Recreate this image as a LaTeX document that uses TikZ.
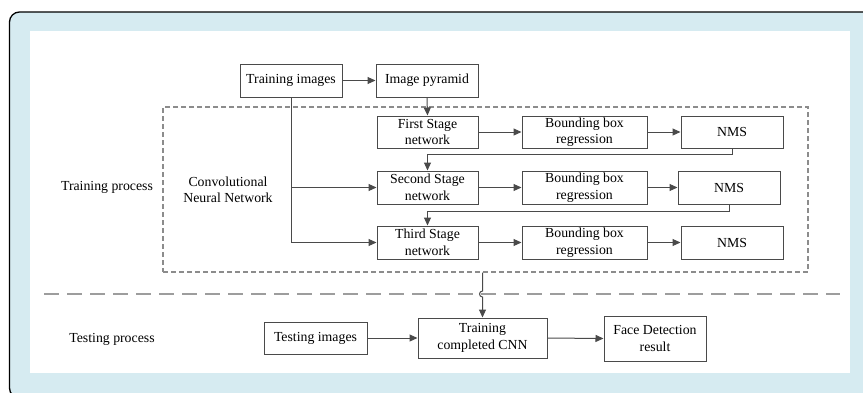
\documentclass[tikz,border=0pt]{standalone}
\usepackage{fontspec}
\setmainfont{Liberation Serif}
\usetikzlibrary{arrows.meta}
\definecolor{framebg}{HTML}{D6EBF1}
\definecolor{boxline}{HTML}{4A4A4A}
\definecolor{dashgray}{HTML}{8C8C8C}
\tikzset{
  blk/.style={draw=boxline, line width=1pt, fill=white, align=center, inner sep=1pt,
    font=\fontsize{13.8}{16.5}\selectfont, text=black},
  lbl/.style={align=center, font=\fontsize{13.8}{16.5}\selectfont, text=black},
  arr/.style={draw=boxline, line width=1pt, -{Triangle[length=8pt,width=7pt]}},
}
\begin{document}
\begin{tikzpicture}[x=1pt,y=-1pt]
\useasboundingbox (0,0) rectangle (863,392);
\clip (0,0) rectangle (863,392);
% frame and panel
\draw[black, line width=1.3pt, fill=framebg, rounded corners=10pt] (9.5,12) rectangle (905,398);
\fill[white] (30,31) rectangle (850,373);

% dashed container for the network stages
\node[draw=dashgray, dash pattern=on 5pt off 3pt, line width=1.1pt,
      minimum width=645pt, minimum height=165pt, inner sep=0pt] (cnn) at (485.5,189.5) {};
% separator between training and testing
\coordinate (sepL) at (44,294);
\coordinate (sepR) at (840,294);
\draw[draw=dashgray!85, dash pattern=on 15pt off 8pt, line width=1.4pt] (sepL) -- (sepR);

% nodes
\node[blk, minimum width=102pt, minimum height=33pt] (ti) at (291,80.5) {Training images};
\node[blk, minimum width=102pt, minimum height=33pt] (ip) at (427,80.5) {Image pyramid};

\node[blk, minimum width=101pt, minimum height=32pt] (s1) at (427.5,132) {First Stage\\network};
\node[blk, minimum width=125pt, minimum height=32pt] (b1) at (584.5,132) {Bounding box\\regression};
\node[blk, minimum width=102pt, minimum height=32pt] (n1) at (732,132) {NMS};

\node[blk, minimum width=101pt, minimum height=33pt] (s2) at (427.5,187.5) {Second Stage\\network};
\node[blk, minimum width=125pt, minimum height=33pt] (b2) at (584.5,187.5) {Bounding box\\regression};
\node[blk, minimum width=102pt, minimum height=33pt] (n2) at (729,187.5) {NMS};

\node[blk, minimum width=101pt, minimum height=33pt] (s3) at (427.5,242.5) {Third Stage\\network};
\node[blk, minimum width=125pt, minimum height=33pt] (b3) at (584.5,242.5) {Bounding box\\regression};
\node[blk, minimum width=102pt, minimum height=33pt] (n3) at (732,242.5) {NMS};

\node[blk, minimum width=103pt, minimum height=32pt] (tst) at (315.5,338) {Testing images};
\node[blk, minimum width=129pt, minimum height=40pt] (tc) at (482.5,338) {Training\\completed CNN};
\node[blk, minimum width=102pt, minimum height=45pt] (fd) at (655,338.5) {Face Detection\\result};

\node[lbl] (trp) at (107,187) {Training process};
\node[lbl] (cnnl) at (228,190) {Convolutional\\Neural Network};
\node[lbl] (tsp) at (112,339) {Testing process};

% training flow
\draw[arr] (ti.east) -- (ip.west);
\draw[arr] (ip.south) -- (s1.north);
\draw[arr] (s1.east) -- (b1.west);
\draw[arr] (b1.east) -- (n1.west);
\draw[arr] (s2.east) -- (b2.west);
\draw[arr] (b2.east) -- (n2.west);
\draw[arr] (s3.east) -- (b3.west);
\draw[arr] (b3.east) -- (n3.west);
\draw[arr] (n1.south) -- ++(0,6) -| (s2.north);
\draw[arr] (n2.south) -- ++(0,7) -| (s3.north);
\draw[arr] (ti.south) |- (s3.west);
\draw[arr] (ti.south |- s2.west) -- (s2.west);

% trained network handed to testing, hopping over the separator
\coordinate (hopA) at (482.5,291);
\draw[arr] (cnn.south -| tc.north) -- (hopA) arc[start angle=90, end angle=270, radius=3pt] -- (tc.north);

% testing flow
\draw[arr] (tst.east) -- (tc.west);
\draw[arr] (tc.east) -- (fd.west);
\end{tikzpicture}
\end{document}
